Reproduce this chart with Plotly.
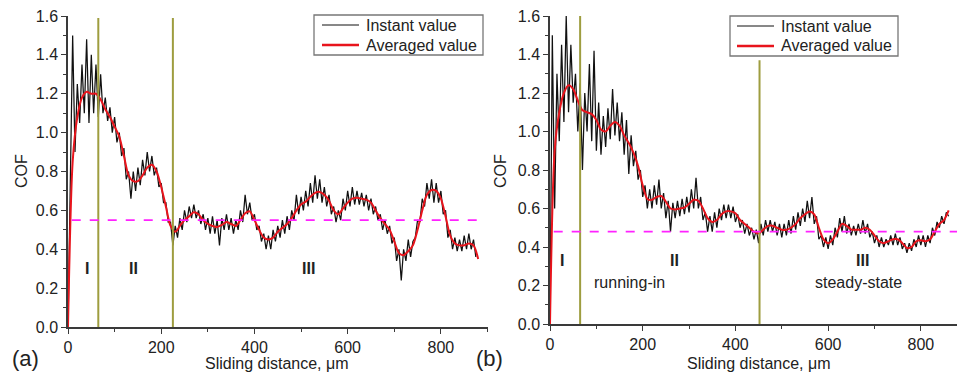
import plotly.graph_objects as go

# ---------------- data ----------------
STEP_INSTANT = 5
STEP_AVG = 10

instant_a = [
    0.0, 0.75, 1.5, 0.9, 1.25, 1.05, 1.35, 1.1, 1.48, 1.05, 1.4, 1.1, 1.35, 1.08, 1.3, 1.1,
    1.18, 1.06, 1.13, 1.0, 1.08, 0.95, 1.0, 0.88, 0.92, 0.76, 0.8, 0.66, 0.8, 0.7, 0.82, 0.73,
    0.86, 0.78, 0.9, 0.8, 0.88, 0.78, 0.82, 0.72, 0.74, 0.64, 0.64, 0.54, 0.54, 0.42, 0.52, 0.46,
    0.56, 0.5, 0.6, 0.54, 0.62, 0.56, 0.63, 0.56, 0.6, 0.53, 0.58, 0.5, 0.56, 0.48, 0.57, 0.48,
    0.55, 0.42, 0.56, 0.5, 0.58, 0.5, 0.56, 0.48, 0.55, 0.5, 0.6, 0.54, 0.68, 0.58, 0.64, 0.55,
    0.58, 0.5, 0.52, 0.44, 0.48, 0.4, 0.47, 0.4, 0.5, 0.44, 0.52, 0.46, 0.55, 0.48, 0.57, 0.5,
    0.6, 0.55, 0.68, 0.58, 0.67, 0.6, 0.7, 0.62, 0.74, 0.64, 0.78, 0.66, 0.76, 0.64, 0.72, 0.62,
    0.68, 0.58, 0.62, 0.54, 0.6, 0.55, 0.66, 0.6, 0.7, 0.62, 0.72, 0.63, 0.7, 0.63, 0.69, 0.62,
    0.68, 0.6, 0.66, 0.58, 0.62, 0.55, 0.58, 0.5, 0.55, 0.48, 0.52, 0.43, 0.46, 0.34, 0.4, 0.24,
    0.4, 0.34, 0.45, 0.36, 0.44, 0.46, 0.55, 0.54, 0.66, 0.62, 0.74, 0.66, 0.76, 0.64, 0.74, 0.64,
    0.7, 0.58, 0.6, 0.46, 0.5, 0.4, 0.46, 0.39, 0.45, 0.39, 0.47, 0.4, 0.48, 0.4, 0.45, 0.36,
]

averaged_a = [
    0.0, 0.85, 1.08, 1.18, 1.21, 1.2, 1.2, 1.17, 1.12, 1.08, 1.03, 0.98, 0.88, 0.78, 0.75, 0.75,
    0.78, 0.82, 0.835, 0.8, 0.72, 0.62, 0.52, 0.49, 0.52, 0.55, 0.57, 0.59, 0.58, 0.55, 0.53, 0.52,
    0.515, 0.525, 0.54, 0.53, 0.52, 0.55, 0.585, 0.595, 0.55, 0.5, 0.46, 0.45, 0.46, 0.49, 0.51, 0.53,
    0.56, 0.6, 0.63, 0.645, 0.67, 0.69, 0.695, 0.68, 0.65, 0.6, 0.58, 0.61, 0.64, 0.66, 0.665, 0.66,
    0.655, 0.64, 0.6, 0.56, 0.53, 0.5, 0.44, 0.38, 0.37, 0.39, 0.42, 0.5, 0.6, 0.68, 0.705, 0.7,
    0.66, 0.57, 0.47, 0.43, 0.42, 0.42, 0.43, 0.42, 0.35,
]

instant_b = [
    0.0, 1.5, 0.6, 1.3, 0.95, 1.45, 1.05, 1.6, 1.1, 1.45, 1.15, 1.3, 1.0, 1.25, 0.8, 1.2,
    1.0, 1.35, 0.95, 1.42, 0.9, 1.15, 0.88, 1.08, 0.92, 1.12, 0.96, 1.22, 0.98, 1.15, 0.95, 1.1,
    0.88, 1.06, 0.78, 0.98, 0.82, 0.9, 0.75, 0.8, 0.66, 0.72, 0.6, 0.7, 0.6, 0.72, 0.62, 0.75,
    0.6, 0.68, 0.55, 0.64, 0.48, 0.63, 0.55, 0.64, 0.56, 0.65, 0.57, 0.66, 0.58, 0.7, 0.6, 0.76,
    0.6, 0.66, 0.54, 0.58, 0.48, 0.56, 0.48, 0.58, 0.5, 0.6, 0.54, 0.62, 0.55, 0.62, 0.55, 0.61,
    0.53, 0.57, 0.5, 0.54, 0.47, 0.52, 0.46, 0.5, 0.44, 0.49, 0.42, 0.52, 0.46, 0.54, 0.48, 0.54,
    0.48, 0.53, 0.46, 0.52, 0.45, 0.52, 0.46, 0.54, 0.47, 0.56, 0.49, 0.58, 0.51, 0.6, 0.53, 0.64,
    0.55, 0.66, 0.52, 0.56, 0.44, 0.46, 0.4, 0.45, 0.39, 0.46, 0.41, 0.5, 0.45, 0.55, 0.48, 0.56,
    0.47, 0.52, 0.46, 0.51, 0.46, 0.52, 0.47, 0.54, 0.47, 0.52, 0.45, 0.48, 0.42, 0.46, 0.4, 0.45,
    0.4, 0.44, 0.41, 0.46, 0.41, 0.47, 0.41, 0.45, 0.39, 0.42, 0.37, 0.42, 0.38, 0.44, 0.4, 0.46,
    0.41, 0.46, 0.4, 0.46, 0.42, 0.5, 0.46, 0.53, 0.5, 0.56, 0.52, 0.58, 0.56,
]

averaged_b = [
    0.0, 0.9, 1.1, 1.2, 1.24, 1.22, 1.16, 1.11, 1.1, 1.09, 1.06, 1.01, 1.0, 1.03, 1.05, 1.03,
    0.98, 0.94, 0.89, 0.82, 0.72, 0.65, 0.645, 0.66, 0.665, 0.635, 0.6, 0.595, 0.6, 0.605, 0.625, 0.645,
    0.64, 0.6, 0.55, 0.53, 0.54, 0.57, 0.585, 0.585, 0.575, 0.54, 0.52, 0.5, 0.48, 0.47, 0.49, 0.51,
    0.51, 0.5, 0.49, 0.49, 0.5, 0.52, 0.55, 0.57, 0.585, 0.57, 0.5, 0.44, 0.42, 0.44, 0.48, 0.52,
    0.51, 0.49, 0.49, 0.49, 0.5, 0.49, 0.46, 0.43, 0.42, 0.43, 0.44, 0.44, 0.42, 0.395, 0.4, 0.43,
    0.435, 0.43, 0.44, 0.48, 0.52, 0.54, 0.59,
]

boundaries_a = [65, 225]
boundaries_b = [65, 452]
boundary_tops_b = [1.6, 1.37]
mean_cof_a = 0.55
mean_cof_b = 0.48

stage_labels_a = [("I", 40, 0.30), ("II", 140, 0.30), ("III", 515, 0.30)]
stage_labels_b = [("I", 25, 0.33), ("II", 268, 0.33), ("III", 675, 0.33)]
stage_names_b = [("running-in", 172, 0.215), ("steady-state", 665, 0.215)]

series_names = ["Instant value", "Averaged value"]
y_ticks = [0.0, 0.2, 0.4, 0.6, 0.8, 1.0, 1.2, 1.4, 1.6]
x_ticks = [0, 200, 400, 600, 800]

# ---------------- styles ----------------
FONT = "Liberation Sans, Arial, sans-serif"
BLACK = "#111111"
RED = "#e8141c"
OLIVE = "#9e9d3f"
MAGENTA = "#ff22ff"
AXIS = "#3a3a3a"
TXT = "#222222"
W, H = 958, 378


def px(x):
    return x / W


def py(y):
    return 1 - y / H


def xs(vals, step):
    return [i * step for i in range(len(vals))]


fig = go.Figure()

panels = [
    (instant_a, averaged_a, "x", "y"),
    (instant_b, averaged_b, "x2", "y2"),
]
for inst, avg, xa, ya in panels:
    fig.add_trace(go.Scatter(
        x=xs(inst, STEP_INSTANT), y=inst, mode="lines", name=series_names[0],
        line=dict(color=BLACK, width=1.25), xaxis=xa, yaxis=ya, showlegend=False))
    fig.add_trace(go.Scatter(
        x=xs(avg, STEP_AVG), y=avg, mode="lines", name=series_names[1],
        line=dict(color=RED, width=2, shape="spline", smoothing=0.8),
        xaxis=xa, yaxis=ya, showlegend=False))

# boundaries and mean lines
for b in boundaries_a:
    fig.add_shape(type="line", xref="x", yref="y", x0=b, x1=b, y0=0, y1=1.59,
                  line=dict(color=OLIVE, width=2))
for b, top in zip(boundaries_b, boundary_tops_b):
    fig.add_shape(type="line", xref="x2", yref="y2", x0=b, x1=b, y0=0, y1=top,
                  line=dict(color=OLIVE, width=2))
fig.add_shape(type="line", xref="x", yref="y", x0=8, x1=880, y0=mean_cof_a, y1=mean_cof_a,
              line=dict(color=MAGENTA, width=1.8, dash="dash"))
fig.add_shape(type="line", xref="x2", yref="y2", x0=8, x1=878, y0=mean_cof_b, y1=mean_cof_b,
              line=dict(color=MAGENTA, width=1.8, dash="dash"))

# stage labels
for txt, x, y in stage_labels_a:
    fig.add_annotation(x=x, y=y, xref="x", yref="y", text="<b>%s</b>" % txt, showarrow=False,
                       font=dict(size=16, color=TXT, family=FONT))
for txt, x, y in stage_labels_b:
    fig.add_annotation(x=x, y=y, xref="x2", yref="y2", text="<b>%s</b>" % txt, showarrow=False,
                       font=dict(size=16, color=TXT, family=FONT))
for txt, x, y in stage_names_b:
    fig.add_annotation(x=x, y=y, xref="x2", yref="y2", text=txt, showarrow=False,
                       font=dict(size=16, color=TXT, family=FONT))

# legends (one boxed legend per panel)
legend_boxes = [((314, 15, 483, 55), 322, 359, 364), ((730, 16, 898, 56), 737, 774, 779)]
for (x0, y0, x1, y1), lx0, lx1, tx in legend_boxes:
    fig.add_shape(type="rect", xref="paper", yref="paper", x0=px(x0), x1=px(x1),
                  y0=py(y1), y1=py(y0), line=dict(color="#777", width=1.3), fillcolor="white",
                  layer="above")
    for i, (name, col, lw) in enumerate(zip(series_names, [BLACK, RED], [1, 2.4])):
        yy = y0 + 10 + 20 * i
        fig.add_shape(type="line", xref="paper", yref="paper", x0=px(lx0), x1=px(lx1),
                      y0=py(yy), y1=py(yy), line=dict(color=col, width=lw), layer="above")
        fig.add_annotation(x=px(tx), y=py(yy), xref="paper", yref="paper", text=name,
                           xanchor="left", yanchor="middle", showarrow=False,
                           font=dict(size=16, color=TXT, family=FONT))

# axis titles and panel letters
for xc in (22, 501):
    fig.add_annotation(x=px(xc), y=py(171), xref="paper", yref="paper", text="COF",
                       textangle=-90, showarrow=False, xanchor="center", yanchor="middle",
                       font=dict(size=16, color=TXT, family=FONT))
for xc in (277, 759):
    fig.add_annotation(x=px(xc), y=py(363), xref="paper", yref="paper",
                       text="Sliding distance, \u03bcm", showarrow=False,
                       xanchor="center", yanchor="middle",
                       font=dict(size=16, color=TXT, family=FONT))
for txt, xc in (("(a)", 25), ("(b)", 489)):
    fig.add_annotation(x=px(xc), y=py(358), xref="paper", yref="paper", text=txt,
                       showarrow=False, xanchor="center", yanchor="middle",
                       font=dict(size=22, color=TXT, family=FONT))

axis_common = dict(showline=True, linecolor=AXIS, linewidth=1.5, showgrid=False, zeroline=False,
                   ticks="outside", ticklen=5, tickwidth=1.3, tickcolor=AXIS, automargin=False,
                   tickfont=dict(size=16, color=TXT, family=FONT))

fig.update_layout(
    width=W, height=H,
    margin=dict(l=0, r=0, t=0, b=0, autoexpand=False),
    paper_bgcolor="white", plot_bgcolor="white",
    font=dict(family=FONT, size=16, color=TXT),
    xaxis=dict(domain=[px(68), px(487.5)], range=[0, 900], tickvals=x_ticks,
               minor=dict(ticks="outside", ticklen=3, dtick=100, tickcolor=AXIS),
               anchor="y", **axis_common),
    yaxis=dict(domain=[py(327), py(16)], range=[0, 1.6], tickvals=y_ticks,
               tickformat=".1f", minor=dict(ticks="outside", ticklen=3, dtick=0.1, tickcolor=AXIS),
               anchor="x", **axis_common),
    xaxis2=dict(domain=[px(550), px(957)], range=[0, 878], tickvals=x_ticks,
                minor=dict(ticks="outside", ticklen=3, dtick=100, tickcolor=AXIS),
                anchor="y2", **axis_common),
    yaxis2=dict(domain=[py(324), py(16)], range=[0, 1.6], tickvals=y_ticks,
                tickformat=".1f", minor=dict(ticks="outside", ticklen=3, dtick=0.1, tickcolor=AXIS),
                anchor="x2", **axis_common),
    showlegend=False,
)

fig.write_html("out.html", config={"displayModeBar": False},
               post_script="document.body.style.margin='0';")
